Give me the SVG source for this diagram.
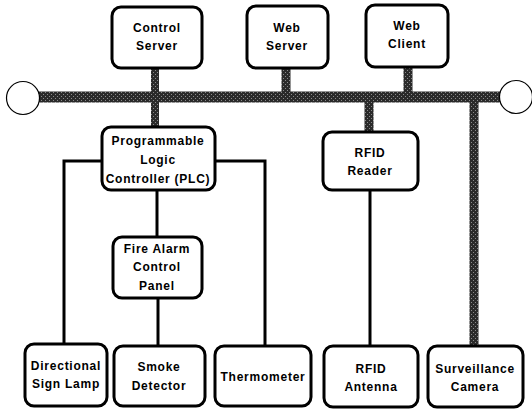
<svg xmlns="http://www.w3.org/2000/svg" width="532" height="411" viewBox="0 0 532 411">
<style>
.box{fill:#fff;stroke:#000;stroke-width:3}
.t{font-family:"Liberation Sans",Arial,sans-serif;font-weight:bold;font-size:12px;letter-spacing:0.75px;text-anchor:middle;fill:#000}
.thin{stroke:#000;stroke-width:3;fill:none}
.bus{stroke:url(#dither);fill:none}
.term{fill:#fff;stroke:#000;stroke-width:1.2}
</style>
<defs>
<pattern id="dither" width="4" height="4" patternUnits="userSpaceOnUse">
<rect width="4" height="4" fill="#2a2a2a"/>
<rect x="1" y="0" width="1" height="1" fill="#8a8a8a"/>
<rect x="3" y="2" width="1" height="1" fill="#8a8a8a"/>
</pattern>
</defs>
<rect width="532" height="411" fill="#fff"/>
<g id="connectors">
<line class="bus" x1="30" y1="97" x2="508" y2="97" stroke-width="11"/>
<line class="bus" x1="155" y1="68" x2="155" y2="128" stroke-width="8"/>
<line class="bus" x1="286" y1="68" x2="286" y2="97" stroke-width="9"/>
<line class="bus" x1="408" y1="67" x2="408" y2="97" stroke-width="9"/>
<line class="bus" x1="369" y1="97" x2="369" y2="132" stroke-width="9"/>
<line class="bus" x1="474" y1="97" x2="474" y2="346" stroke-width="9"/>
<polyline class="thin" points="102,161 64,161 64,344"/>
<polyline class="thin" points="215,161 265,161 265,346"/>
<line class="thin" x1="157" y1="190" x2="157" y2="237"/>
<line class="thin" x1="158" y1="298" x2="158" y2="346"/>
<line class="thin" x1="370" y1="190" x2="370" y2="346"/>
</g>
<g id="term-left"><circle class="term" cx="23" cy="98" r="16.5"/></g>
<g id="term-right"><circle class="term" cx="516" cy="97" r="16.5"/></g>
<g id="control-server"><rect class="box" x="112" y="7" width="90" height="61" rx="9"/><text class="t" x="157" y="32">Control</text><text class="t" x="157" y="50">Server</text></g>
<g id="web-server"><rect class="box" x="247" y="6" width="81" height="62" rx="9"/><text class="t" x="287" y="32">Web</text><text class="t" x="287" y="50">Server</text></g>
<g id="web-client"><rect class="box" x="366" y="5" width="82" height="62" rx="9"/><text class="t" x="407" y="30">Web</text><text class="t" x="407" y="48">Client</text></g>
<g id="plc"><rect class="box" x="102" y="127" width="113" height="63" rx="9"/><text class="t" x="158" y="145">Programmable</text><text class="t" x="158" y="164">Logic</text><text class="t" x="158" y="183">Controller (PLC)</text></g>
<g id="rfid-reader"><rect class="box" x="323" y="132" width="95" height="58" rx="9"/><text class="t" x="370" y="157">RFID</text><text class="t" x="370" y="175">Reader</text></g>
<g id="fire-alarm"><rect class="box" x="113" y="237" width="89" height="61" rx="9"/><text class="t" x="157" y="253">Fire Alarm</text><text class="t" x="157" y="271">Control</text><text class="t" x="157" y="290">Panel</text></g>
<g id="directional-sign-lamp"><rect class="box" x="25" y="344" width="82" height="62" rx="9"/><text class="t" x="66" y="370">Directional</text><text class="t" x="66" y="388">Sign Lamp</text></g>
<g id="smoke-detector"><rect class="box" x="114" y="346" width="91" height="60" rx="9"/><text class="t" x="159" y="371">Smoke</text><text class="t" x="159" y="390">Detector</text></g>
<g id="thermometer"><rect class="box" x="215" y="346" width="96" height="60" rx="9"/><text class="t" x="263" y="381">Thermometer</text></g>
<g id="rfid-antenna"><rect class="box" x="324" y="346" width="94" height="61" rx="9"/><text class="t" x="371" y="373">RFID</text><text class="t" x="371" y="391">Antenna</text></g>
<g id="surveillance-camera"><rect class="box" x="428" y="346" width="95" height="61" rx="9"/><text class="t" x="475" y="373">Surveillance</text><text class="t" x="475" y="391">Camera</text></g>
</svg>
